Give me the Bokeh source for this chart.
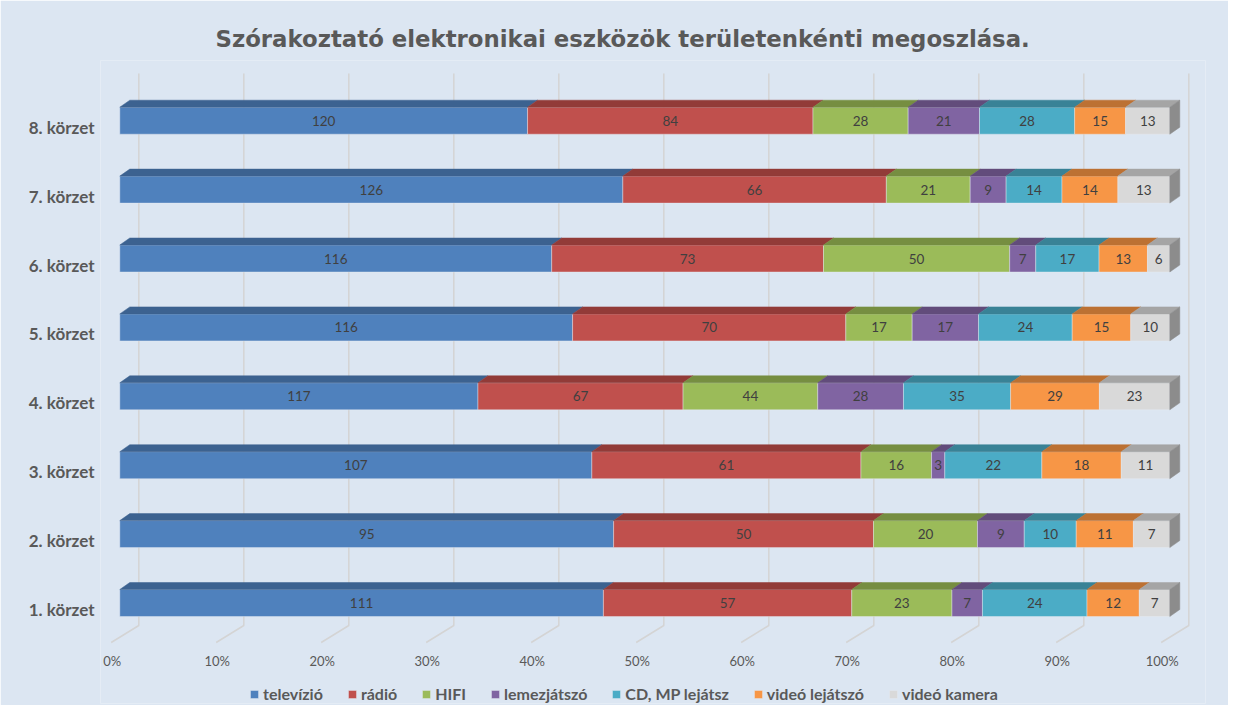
from bokeh.plotting import figure
from bokeh.models import ColumnDataSource, Range1d, FixedTicker, Legend, LegendItem
from bokeh.core.properties import value
from bokeh.embed import file_html
from bokeh.resources import INLINE

# ---------------- data ----------------
categories = ["1. körzet", "2. körzet", "3. körzet", "4. körzet",
              "5. körzet", "6. körzet", "7. körzet", "8. körzet"]
series_names = ["televízió", "rádió", "HIFI", "lemezjátszó",
                "CD, MP lejátsz", "videó lejátszó", "videó kamera"]
televizio = [111, 95, 107, 117, 116, 116, 126, 120]
radio = [57, 50, 61, 67, 70, 73, 66, 84]
hifi = [23, 20, 16, 44, 17, 50, 21, 28]
lemezjatszo = [7, 9, 3, 28, 17, 7, 9, 21]
cd_mp = [24, 10, 22, 35, 24, 17, 14, 28]
video_lejatszo = [12, 11, 18, 29, 15, 13, 14, 15]
video_kamera = [7, 7, 11, 23, 10, 6, 13, 13]
x_ticks = [0, 10, 20, 30, 40, 50, 60, 70, 80, 90, 100]
x_tick_labels = ["0%", "10%", "20%", "30%", "40%", "50%", "60%", "70%", "80%", "90%", "100%"]
title_text = "Szórakoztató elektronikai eszközök területenkénti megoszlása."

series = [televizio, radio, hifi, lemezjatszo, cd_mp, video_lejatszo, video_kamera]

# ---------------- style ----------------
BG = "#dce6f2"
front_colors = ["#4f81bd", "#c0504d", "#9bbb59", "#8064a2", "#4bacc6", "#f79646", "#d9d9d9"]
top_colors = ["#3c6290", "#923b38", "#768e41", "#624c7b", "#398296", "#bc7133", "#a5a5a5"]
side_color = "#8c8c8c"
grid_color = "#d4d4d4"
text_dark = "#595959"

PX_X = 100.0 / 1050.0   # percent per pixel
PX_Y = 1.0 / 68.9       # category units per pixel
x_start = -19.3 * PX_X
y_start = -94.0 * PX_Y

p = figure(width=1228, height=705,
           x_range=Range1d(x_start, x_start + 1105 * PX_X),
           y_range=Range1d(y_start, y_start + 643 * PX_Y),
           output_backend="svg", toolbar_location=None,
           x_axis_location=None,
           min_border_left=100, min_border_right=23,
           min_border_top=60, min_border_bottom=2,
           background_fill_color=BG, border_fill_color=BG,
           outline_line_color=None, title=title_text)
p.grid.visible = False
p.title.align = "left"
p.title.offset = 115
p.title.standoff = 17
p.title.text_font = "DejaVu Sans"
p.title.text_font_size = "22.8px"
p.title.text_font_style = "bold"
p.title.text_color = text_dark

# y axis (categories)
ya = p.yaxis[0]
ya.ticker = FixedTicker(ticks=list(range(len(categories))))
ya.major_label_overrides = {i: c for i, c in enumerate(categories)}
ya.axis_line_color = None
ya.major_tick_line_color = None
ya.minor_tick_line_color = None
ya.major_tick_in = 0
ya.major_tick_out = 0
ya.major_label_standoff = 6
ya.major_label_text_font = "Lato"
ya.major_label_text_font_style = "bold"
ya.major_label_text_font_size = "17px"
ya.major_label_text_color = text_dark

# 3D back-wall grid lines with floor diagonals
back_dx = 19 * PX_X
floor_dx = -8.6 * PX_X
y_top = 7 + (126.7 - 73) * PX_Y
y_floor_back = -(625 - 609) * PX_Y
y_floor_front = -(642 - 609) * PX_Y
gxs = [[t + back_dx, t + back_dx, t + floor_dx] for t in x_ticks]
gys = [[y_top, y_floor_back, y_floor_front] for _ in x_ticks]
p.multi_line(gxs, gys, line_color=grid_color, line_width=1.5)

# tick labels
tick_src = ColumnDataSource(dict(x=[t - 7.6 * PX_X for t in x_ticks],
                                 y=[-(660 - 609) * PX_Y] * len(x_ticks),
                                 text=x_tick_labels))
p.text(x="x", y="y", text="text", source=tick_src, text_align="center",
       text_baseline="middle", text_font=value("Lato"), text_font_size="13px",
       text_color=text_dark)

# bars
n = len(categories)
totals = [sum(s[i] for s in series) for i in range(n)]
pcts = [[100.0 * s[i] / totals[i] for i in range(n)] for s in series]
dx = 10 * PX_X
dy = 7 * PX_Y
h = 27 * PX_Y
yc = [i + 6.5 * PX_Y for i in range(n)]

left = [0.0] * n
legend_items = []
top_xs, top_ys, top_cols = [], [], []
lab_x, lab_y, lab_t = [], [], []
for k, name in enumerate(series_names):
    right = [left[i] + pcts[k][i] for i in range(n)]
    src = ColumnDataSource(dict(y=yc, left=left, right=right))
    r = p.hbar(y="y", left="left", right="right", height=h, source=src,
               fill_color=front_colors[k], line_color="#e6ecf4", line_width=0.6,
               line_alpha=0.7)
    legend_items.append(LegendItem(label=name, renderers=[r]))
    for i in range(n):
        yt = yc[i] + h / 2
        top_xs.append([left[i], right[i], right[i] + dx, left[i] + dx])
        top_ys.append([yt, yt, yt + dy, yt + dy])
        top_cols.append(top_colors[k])
        lab_x.append((left[i] + right[i]) / 2)
        lab_y.append(yc[i])
        lab_t.append(str(series[k][i]))
    left = right

p.patches(top_xs, top_ys, fill_color=top_cols, line_color=top_cols, line_width=0.5)

side_xs = [[100, 100 + dx, 100 + dx, 100] for i in range(n)]
side_ys = [[yc[i] - h / 2, yc[i] - h / 2 + dy, yc[i] + h / 2 + dy, yc[i] + h / 2] for i in range(n)]
p.patches(side_xs, side_ys, fill_color=side_color, line_color=side_color, line_width=0.5)

lab_src = ColumnDataSource(dict(x=lab_x, y=lab_y, text=lab_t))
p.text(x="x", y="y", text="text", source=lab_src, text_align="center",
       text_baseline="middle", text_font=value("Lato"), text_font_size="13.5px",
       text_color="#404040")

legend = Legend(items=legend_items, orientation="horizontal", location=(149, 0),
                background_fill_alpha=0, border_line_color=None,
                label_text_font="Lato", label_text_font_style="bold",
                label_text_font_size="16px", label_text_color=text_dark,
                glyph_width=10, glyph_height=10, spacing=24, label_standoff=4,
                padding=0, margin=0)
p.add_layout(legend)

open("out.html", "w").write(file_html(p, INLINE))
